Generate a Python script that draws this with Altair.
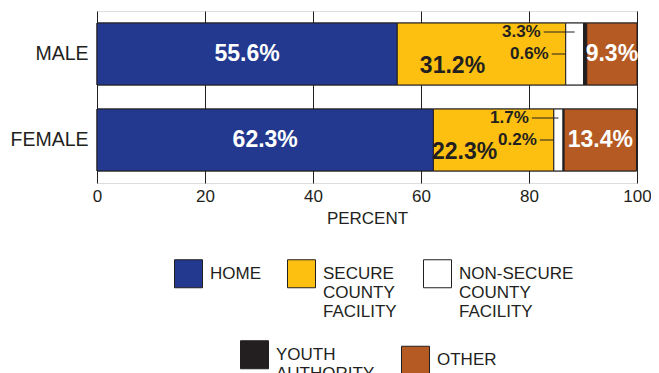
import altair as alt
import pandas as pd

categories = ["HOME", "SECURE COUNTY FACILITY", "NON-SECURE COUNTY FACILITY",
              "YOUTH AUTHORITY", "OTHER"]
groups = ["MALE", "FEMALE"]
male_pct = [55.6, 31.2, 3.3, 0.6, 9.3]
female_pct = [62.3, 22.3, 1.7, 0.2, 13.4]
colors = ["#22398f", "#fdc010", "#ffffff", "#231f20", "#b55a22"]
tick_values = [0, 20, 40, 60, 80, 100]

DARK = "#231f20"
FONT = "Liberation Sans"

rows = []
for g, vals in zip(groups, [male_pct, female_pct]):
    start = 0.0
    sec_end = vals[0] + vals[1]
    for i, (c, v) in enumerate(zip(categories, vals)):
        rows.append(dict(group=g, category=c, cat2=c, order=i, pct=v, start=start,
                         end=start + v, mid=start + v / 2, sec_end=sec_end,
                         label=f"{v:.1f}%"))
        start += v
df = pd.DataFrame(rows)

y_enc = alt.Y("group:N", sort=groups, title=None,
              scale=alt.Scale(paddingInner=0.28, paddingOuter=0.14),
              axis=alt.Axis(labelFontSize=19.5, labelPadding=9, ticks=False,
                            domain=False, labelColor=DARK, labelFont=FONT,
                            grid=False))
x_enc = alt.X("start:Q", title="PERCENT",
              scale=alt.Scale(domain=[0, 100], nice=False),
              axis=alt.Axis(values=tick_values, grid=True, gridColor=DARK,
                            gridOpacity=1, gridWidth=1, ticks=False, domain=False,
                            labelFontSize=17, labelPadding=5, labelFlush=False,
                            labelColor=DARK, labelFont=FONT,
                            titleFontSize=17, titleFontWeight="normal",
                            titlePadding=6, titleColor=DARK, titleFont=FONT))

leg_common = dict(orient="none", direction="horizontal", title=None,
                  symbolType="square", symbolSize=784, symbolStrokeColor=DARK,
                  symbolStrokeWidth=1, labelFontSize=17, labelFont=FONT,
                  labelColor=DARK,
                  labelOffset=7, columnPadding=24, labelLimit=0, padding=0,
                  symbolOpacity=1)

# first row: one-word labels are padded to three lines so that every entry
# of the row has its swatch at the same height
EXPR_ROW1 = ("length(split(datum.label, ' ')) == 1 ? "
             "[datum.label, ' ', ' '] : split(datum.label, ' ')")
EXPR_ROW2 = "split(datum.label, ' ')"

# second legend's scale lists the same categories in another order so that
# Vega-Lite keeps the two legends apart
cat_b = categories[3:] + categories[:3]
col_b = colors[3:] + colors[:3]

base = alt.Chart(df)

hidden = base.mark_bar(stroke=DARK, strokeWidth=1).encode(
    x=x_enc, x2="end:Q", y=y_enc,
    color=alt.Color("category:N", sort=cat_b,
                    scale=alt.Scale(domain=cat_b, range=col_b),
                    legend=alt.Legend(values=categories[3:], legendX=143,
                                      legendY=329, labelExpr=EXPR_ROW2,
                                      **leg_common)),
)

bars = base.mark_bar(stroke=DARK, strokeWidth=1).encode(
    x=x_enc, x2="end:Q", y=y_enc,
    fill=alt.Fill("cat2:N", sort=categories,
                  scale=alt.Scale(domain=categories, range=colors),
                  legend=alt.Legend(values=categories[:3], legendX=77,
                                    legendY=248, labelExpr=EXPR_ROW1,
                                    **leg_common)),
)

white_lbl = base.transform_filter(
    alt.FieldOneOfPredicate(field="category", oneOf=["HOME", "OTHER"])
).mark_text(color="white", fontWeight="bold", fontSize=23, font=FONT).encode(
    x="mid:Q", y=alt.Y("group:N", sort=groups), text="label:N")

sec_lbl = base.transform_filter(
    alt.datum.category == "SECURE COUNTY FACILITY"
).mark_text(color=DARK, fontWeight="bold", fontSize=23, font=FONT,
            dx=-29, dy=12).encode(
    x="mid:Q", y=alt.Y("group:N", sort=groups), text="label:N")

ns_lbl = base.transform_filter(
    alt.datum.category == "NON-SECURE COUNTY FACILITY"
).mark_text(color=DARK, fontWeight="bold", fontSize=17, font=FONT,
            align="right", dx=-25, dy=-22).encode(
    x="sec_end:Q", y=alt.Y("group:N", sort=groups), text="label:N")

ya_lbl = base.transform_filter(
    alt.datum.category == "YOUTH AUTHORITY"
).mark_text(color=DARK, fontWeight="bold", fontSize=17, font=FONT,
            align="right", dx=-17, dy=0).encode(
    x="sec_end:Q", y=alt.Y("group:N", sort=groups), text="label:N")

ns_rule = base.transform_filter(
    alt.datum.category == "NON-SECURE COUNTY FACILITY"
).mark_rule(color=DARK, strokeWidth=1, xOffset=-22, yOffset=-22).encode(
    x="sec_end:Q", x2="mid:Q", y=alt.Y("group:N", sort=groups))

ya_rule = base.transform_filter(
    alt.datum.category == "YOUTH AUTHORITY"
).mark_rule(color=DARK, strokeWidth=1, xOffset=-14).encode(
    x="sec_end:Q", x2="sec_end:Q", y=alt.Y("group:N", sort=groups))

chart = alt.layer(hidden, bars, white_lbl, sec_lbl, ns_lbl, ya_lbl,
                  ns_rule, ya_rule).properties(
    width=540, height=172,
    autosize=alt.AutoSizeParams(type="none"),
    padding={"left": 89, "top": 3, "right": 14, "bottom": 190},
).configure_view(stroke=DARK, strokeWidth=1).configure(background="white")

chart.save("out.html", embed_options={"renderer": "svg", "actions": False})
